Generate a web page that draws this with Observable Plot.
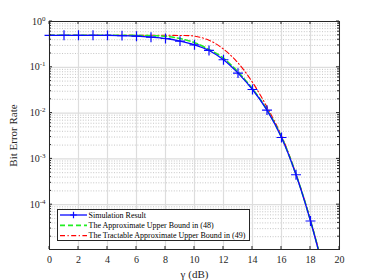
<!DOCTYPE html>
<html><head><meta charset="utf-8">
<script src="https://cdn.jsdelivr.net/npm/d3@7"></script>
<script src="https://cdn.jsdelivr.net/npm/@observablehq/plot@0.6"></script>
<style>html,body{margin:0;padding:0;background:#fff;} svg{display:block}</style>
</head><body><div id="chart"></div>
<script>
const gamma = [0,1,2,3,4,5,6,7,8,9,10,11,12,13,14,15,16,17,18,19];
const simulation = [0.5,0.5,0.5,0.5,0.498,0.492,0.478,0.455,0.425,0.373,0.31,0.233,0.146,0.0747,0.0327,0.0116,0.00293,4.5e-4,4.4e-5,2.8e-6];
const approxBound = [0.5,0.5,0.5,0.5,0.5,0.5,0.497,0.49,0.475,0.425,0.345,0.245,0.158,0.079,0.034,0.0118,0.003,4.6e-4,4.5e-5,2.9e-6];
const tractableBound = [0.5,0.5,0.5,0.5,0.5,0.5,0.5,0.5,0.5,0.495,0.48,0.39,0.25,0.125,0.047,0.0135,0.0032,4.7e-4,4.6e-5,3.0e-6];
const xTicks = [0,2,4,6,8,10,12,14,16,18,20];
const yTicks = [1,0.1,0.01,0.001,0.0001];
const seriesNames = ["Simulation Result","The Approximate Upper Bound in (48)","The Tractable Approximate Upper Bound in (49)"];
const seriesColors = ["#0a0aff","#22ee22","#ff0000"];
const yDomain = [1.05e-5, 1];

const rows = gamma.map((g,i)=>({g, sim: simulation[i], approx: approxBound[i], tract: tractableBound[i]}));
const yMinor = d3.scaleLog().domain(yDomain).ticks().filter(v => v >= yDomain[0] && Math.abs(Math.log10(v) - Math.round(Math.log10(v))) > 1e-6);

const axisColor = "#262626";
const plot = Plot.plot({
  width: 374, height: 280,
  marginLeft: 49, marginRight: 35, marginTop: 21, marginBottom: 31,
  style: {fontFamily: "'Liberation Serif','Times New Roman',serif", fontSize: "10px", color: axisColor, background: "#fff"},
  x: {domain: [0,20]},
  y: {type: "log", domain: yDomain},
  marks: [
    Plot.ruleY(yMinor, {stroke: "#b8b8b8", strokeDasharray: "1,1.6", strokeWidth: 0.8}),
    Plot.ruleY(yTicks, {stroke: "#dddddd", strokeWidth: 1.2}),
    Plot.ruleX(xTicks, {stroke: "#dddddd", strokeWidth: 1.2}),
    Plot.line(rows, {x: "g", y: "tract", stroke: seriesColors[2], strokeWidth: 1.1, strokeDasharray: "5,2.5,1.2,2.5", curve: "catmull-rom", clip: true}),
    Plot.line(rows, {x: "g", y: "approx", stroke: seriesColors[1], strokeWidth: 1.6, strokeDasharray: "5,3", curve: "catmull-rom", clip: true}),
    Plot.line(rows, {x: "g", y: "sim", stroke: seriesColors[0], strokeWidth: 1.3, curve: "catmull-rom", clip: true}),
    Plot.dot(rows, {filter: d => d.sim >= yDomain[0], x: "g", y: "sim", symbol: "plus", r: 3.3, stroke: seriesColors[0], strokeWidth: 1.2}),
    Plot.axisX(xTicks, {tickSize: 0, tickPadding: 6, fontSize: 10, label: "γ (dB)", labelAnchor: "center", labelArrow: "none", labelOffset: 28, stroke: null}),
    Plot.axisY(yTicks, {tickSize: 0, tickPadding: 4, fontSize: 10, tickFormat: d => `10^${Math.round(Math.log10(d))}`, label: "Bit Error Rate", labelAnchor: "center", labelArrow: "none", labelOffset: 40}),
    Plot.frame({stroke: axisColor, strokeWidth: 1})
  ]
});

// superscript exponents on y tick labels
plot.querySelectorAll('[aria-label="y-axis tick label"] text').forEach(t => {
  const s = t.textContent; const [base, exp] = s.split("^");
  t.textContent = "";
  const ns = "http://www.w3.org/2000/svg";
  const a = document.createElementNS(ns, "tspan"); a.textContent = base; t.appendChild(a);
  const b = document.createElementNS(ns, "tspan"); b.textContent = exp; b.setAttribute("dy", "-4"); b.setAttribute("font-size", "7"); t.appendChild(b);
});
plot.querySelectorAll('[aria-label="x-axis label"] text, [aria-label="y-axis label"] text').forEach(t => t.setAttribute("font-size", "11"));

// inward tick marks (MATLAB style)
const sx = plot.scale("x"), sy = plot.scale("y");
const tg = d3.select(plot).append("g").attr("stroke", axisColor).attr("stroke-width", 1);
const yb = sy.apply(yDomain[0]), yt = sy.apply(1), xl = sx.apply(0), xr = sx.apply(20);
xTicks.forEach(v => {
  const x = sx.apply(v);
  tg.append("line").attr("x1", x).attr("x2", x).attr("y1", yb).attr("y2", yb - 3);
  tg.append("line").attr("x1", x).attr("x2", x).attr("y1", yt).attr("y2", yt + 3);
});
yTicks.concat(yMinor).forEach(v => {
  const y = sy.apply(v); const len = yTicks.includes(v) ? 3 : 2;
  tg.append("line").attr("x1", xl).attr("x2", xl + len).attr("y1", y).attr("y2", y);
  tg.append("line").attr("x1", xr).attr("x2", xr - len).attr("y1", y).attr("y2", y);
});

// legend
const lg = d3.select(plot).append("g").attr("font-size", 8).attr("fill", "#000").attr("text-anchor", "start");
lg.append("rect").attr("x", 57.5).attr("y", 209.5).attr("width", 192).attr("height", 31).attr("fill", "#fff").attr("stroke", axisColor);
const dashes = [null, "5,3", "5,2.5,1.2,2.5"], widths = [1.3, 1.8, 1.1];
seriesNames.forEach((name, i) => {
  const y = 215 + i * 10.3;
  lg.append("line").attr("x1", 60).attr("x2", 87).attr("y1", y).attr("y2", y)
    .attr("stroke", seriesColors[i]).attr("stroke-width", widths[i]).attr("stroke-dasharray", dashes[i]);
  if (i === 0) {
    lg.append("path").attr("d", `M${73.5-3.3},${y}h6.6M73.5,${y-3.3}v6.6`).attr("stroke", seriesColors[0]).attr("stroke-width", 1.2);
  }
  lg.append("text").attr("x", 88.5).attr("y", y).attr("dy", "0.32em").attr("text-anchor", "start").text(name);
});

document.getElementById("chart").appendChild(plot);
</script>
</body></html>
